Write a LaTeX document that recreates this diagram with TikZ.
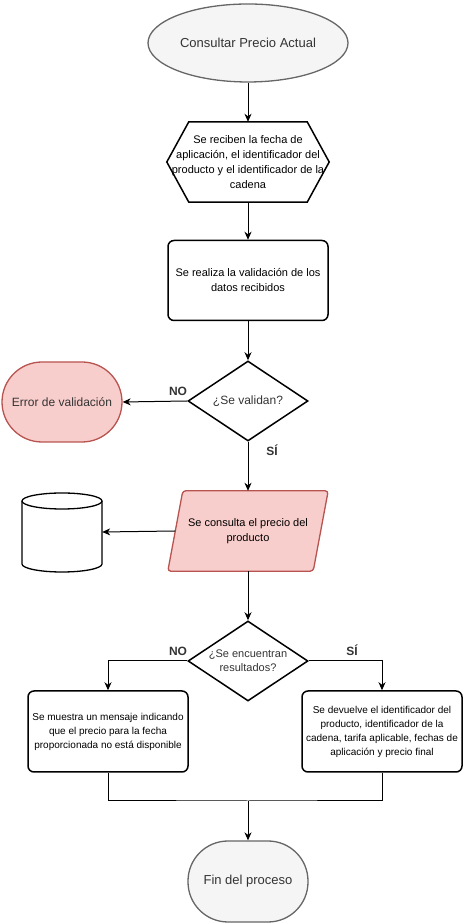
\documentclass[tikz,border=0pt]{standalone}
\usepackage{fontspec}
\setmainfont{Liberation Sans}
\usetikzlibrary{arrows.meta,shapes.geometric,calc}
\definecolor{greyfill}{HTML}{F5F5F5}
\definecolor{greyline}{HTML}{666666}
\definecolor{greytext}{HTML}{333333}
\definecolor{pinkfill}{HTML}{F8CECC}
\definecolor{pinkline}{HTML}{B85450}
\tikzset{
  base/.style={align=center, font=\fontsize{11}{15}\selectfont, inner sep=0pt},
  small/.style={font=\fontsize{10}{14}\selectfont},
  greyterm/.style={base, draw=greyline, fill=greyfill, line width=1.3pt, text=greytext, font=\fontsize{13}{15}\selectfont},
  pinkterm/.style={base, draw=pinkline, fill=pinkfill, line width=1.3pt, text=greytext, font=\fontsize{12}{15}\selectfont, rounded corners=40pt, minimum width=120pt, minimum height=80pt},
  procbox/.style={base, draw=black, line width=1.5pt, rounded corners=6pt},
  decision/.style={base, draw=black, line width=1.5pt, diamond, aspect=1.5, minimum width=120pt, minimum height=80pt, inner sep=0pt},
  shapeline/.style={draw=black, line width=1.5pt},
  conn/.style={line width=1pt, -{Stealth[length=8pt,width=7pt,inset=2.5pt]}},
  plain/.style={line width=1pt},
  yesno/.style={font=\fontsize{12}{14}\selectfont\bfseries, text=greytext, inner sep=0pt}
}
\begin{document}
\begin{tikzpicture}[x=1pt,y=1pt]
\useasboundingbox (0,0) rectangle (463,923);
% start
\node[greyterm, ellipse, minimum width=200pt, minimum height=78pt] (start) at (248,880) {Consultar Precio Actual};
% hexagon
\node[base, minimum width=162pt, minimum height=80pt] (hex) at (248,761) {Se reciben la fecha de\\aplicación, el identificador del\\producto y el identificador de la\\cadena};
\draw[shapeline] ([xshift=22pt]hex.north west) -- ([xshift=-22pt]hex.north east) -- (hex.east) -- ([xshift=-22pt]hex.south east) -- ([xshift=22pt]hex.south west) -- (hex.west) -- cycle;
% validation box
\node[procbox, minimum width=160pt, minimum height=80pt] (val) at (248,642.5) {Se realiza la validación de los\\datos recibidos};
% decision 1
\node[decision, font=\fontsize{12}{14}\selectfont, text=greytext] (d1) at (248,522) {¿Se validan?};
% error
\node[pinkterm] (err) at (62,521) {Error de validación};
\node[yesno] (no1) at (178,532) {NO};
\node[yesno] (si1) at (272,473) {SÍ};
% parallelogram
\node[base, minimum width=145pt, minimum height=80pt] (par) at (248,392) {Se consulta el precio del\\producto};
\draw[draw=pinkline, fill=pinkfill, line width=1.3pt, rounded corners=3pt] ([xshift=7.5pt]par.north west) -- ([xshift=7.5pt]par.north east) -- ([xshift=-7.5pt]par.south east) -- ([xshift=-7.5pt]par.south west) -- cycle;
\node[base] at (par.center) {Se consulta el precio del\\producto};
\coordinate (parw) at (par.west);
% cylinder
\node[minimum width=80pt, minimum height=80pt, inner sep=0pt] (cyl) at (62,391) {};
\draw[shapeline, line width=1.3pt, fill=white] (22,422) -- (22,359) arc[start angle=180, end angle=360, x radius=40pt, y radius=8pt] -- (102,422);
\draw[shapeline, line width=1.3pt, fill=white] (62,422) ellipse [x radius=40pt, y radius=8pt];
% decision 2
\node[decision, font=\fontsize{11}{14}\selectfont, text=greytext] (d2) at (248,262) {¿Se encuentran\\resultados?};
\node[yesno] (no2) at (178,272) {NO};
\node[yesno] (si2) at (352,273) {SÍ};
% result boxes
\node[procbox, small, minimum width=160pt, minimum height=81pt] (left) at (108,191.5) {Se muestra un mensaje indicando\\que el precio para la fecha\\proporcionada no está disponible};
\node[procbox, small, minimum width=160pt, minimum height=81pt] (right) at (382,191.5) {Se devuelve el identificador del\\producto, identificador de la\\cadena, tarifa aplicable, fechas de\\aplicación y precio final};
% end
\node[greyterm, rounded corners=40pt, minimum width=120pt, minimum height=81pt] (fin) at (248,41.5) {Fin del proceso};
\coordinate (join) at (248,122);
% connectors
\draw[conn] (start.south) -- (hex.north);
\draw[conn] (hex.south) -- (val.north);
\draw[conn] (val.south) -- (d1.north);
\draw[conn] (d1.west) -- (err.east);
\draw[conn] (d1.south) -- (par.north);
\draw[conn] (parw) -- (cyl.east);
\draw[conn] (par.south) -- (d2.north);
\draw[conn] (d2.west) -| (left.north);
\draw[conn] (d2.east) -| (right.north);
\draw[plain] (left.south) |- (join) -| (right.south);
\draw[conn] (join) -- (fin.north);
\end{tikzpicture}
\end{document}
